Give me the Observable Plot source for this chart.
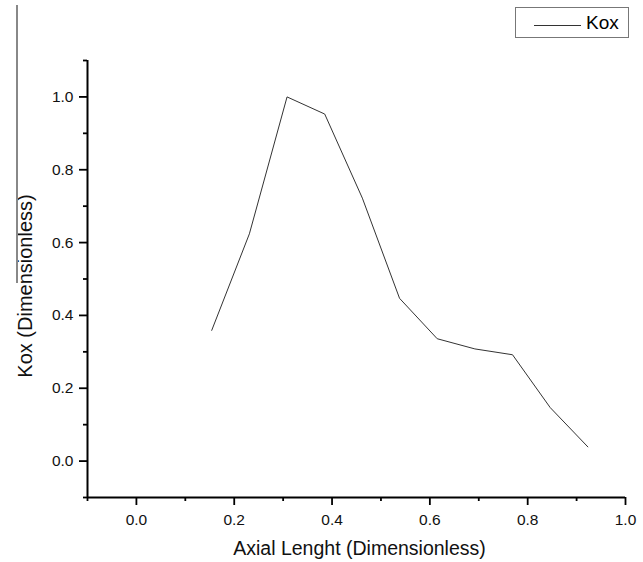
<!DOCTYPE html>
<html>
<head>
<meta charset="utf-8">
<script src="https://cdn.jsdelivr.net/npm/d3@7"></script>
<script src="https://cdn.jsdelivr.net/npm/@observablehq/plot@0.6"></script>
<style>
  html, body { margin: 0; padding: 0; background: #fff; }
  #wrap { position: relative; width: 643px; height: 562px; font-family: "Liberation Sans", Arial, sans-serif; }
  #wrap svg { position: absolute; left: 0; top: 0; }
  #stray { position: absolute; left: 16px; top: 5px; width: 0; height: 278px; border-left: 2px solid #888; }
  #legend { position: absolute; left: 515px; top: 7px; width: 112px; height: 29px; border: 1px solid #777; background: #fff; }
  #legend .sw { position: absolute; left: 18px; top: 17px; width: 47px; border-top: 1px solid #333; }
  #legend .lb { position: absolute; left: 70px; top: 4px; font-size: 19px; line-height: 22px; color: #000; }
</style>
</head>
<body>
<div id="wrap">
  <div id="stray"></div>
  <div id="legend"><div class="sw"></div><div class="lb">Kox</div></div>
</div>
<script>
const axialLength = [0.154, 0.231, 0.308, 0.385, 0.462, 0.538, 0.615, 0.692, 0.769, 0.846, 0.923];
const koxValues   = [0.359, 0.624, 1.000, 0.953, 0.722, 0.447, 0.336, 0.308, 0.292, 0.147, 0.039];
const xMajorTicks = [0.0, 0.2, 0.4, 0.6, 0.8, 1.0];
const xMinorTicks = [-0.1, 0.1, 0.3, 0.5, 0.7, 0.9];
const yMajorTicks = [0.0, 0.2, 0.4, 0.6, 0.8, 1.0];
const yMinorTicks = [-0.1, 0.1, 0.3, 0.5, 0.7, 0.9, 1.1];
const xTitle = "Axial Lenght (Dimensionless)";
const yTitle = "Kox (Dimensionless)";

const data = axialLength.map((x, i) => ({x, y: koxValues[i]}));
const fmt = d3.format(".1f");

const chart = Plot.plot({
  width: 643,
  height: 562,
  marginLeft: 87,
  marginRight: 18,
  marginTop: 60,
  marginBottom: 65,
  style: {fontFamily: "Liberation Sans, Arial, sans-serif", background: "transparent"},
  x: {domain: [-0.1, 1.0]},
  y: {domain: [-0.1, 1.1]},
  marks: [
    Plot.axisX(xMinorTicks, {tickSize: 4, strokeWidth: 1.8, tickFormat: () => "", label: null}),
    Plot.axisX(xMajorTicks, {
      tickSize: 8, tickPadding: 8, strokeWidth: 1.8, tickFormat: fmt, fontSize: 15.5, fill: "#111",
      label: xTitle, labelAnchor: "center", labelArrow: "none", labelOffset: 57
    }),
    Plot.axisY(yMinorTicks, {tickSize: 4, strokeWidth: 1.8, tickFormat: () => "", label: null}),
    Plot.axisY(yMajorTicks, {
      tickSize: 8, tickPadding: 6, strokeWidth: 1.8, tickFormat: fmt, fontSize: 15.5, fill: "#111",
      label: yTitle, labelAnchor: "center", labelArrow: "none", labelOffset: 70
    }),
    Plot.ruleX([-0.1], {stroke: "#000", strokeWidth: 2}),
    Plot.ruleY([-0.1], {stroke: "#000", strokeWidth: 2}),
    Plot.line(data, {x: "x", y: "y", stroke: "#333", strokeWidth: 1})
  ]
});
chart.querySelectorAll("text").forEach(t => {
  const s = t.textContent;
  if (s === xTitle || s === yTitle) {
    t.style.fontSize = s === xTitle ? "19.5px" : "20px";
    const g = t.parentNode;
    const shift = s === xTitle ? " translate(3,0)" : " translate(0,7)";
    g.setAttribute("transform", (g.getAttribute("transform") || "") + shift);
  }
});
document.getElementById("wrap").prepend(chart);
</script>
</body>
</html>
